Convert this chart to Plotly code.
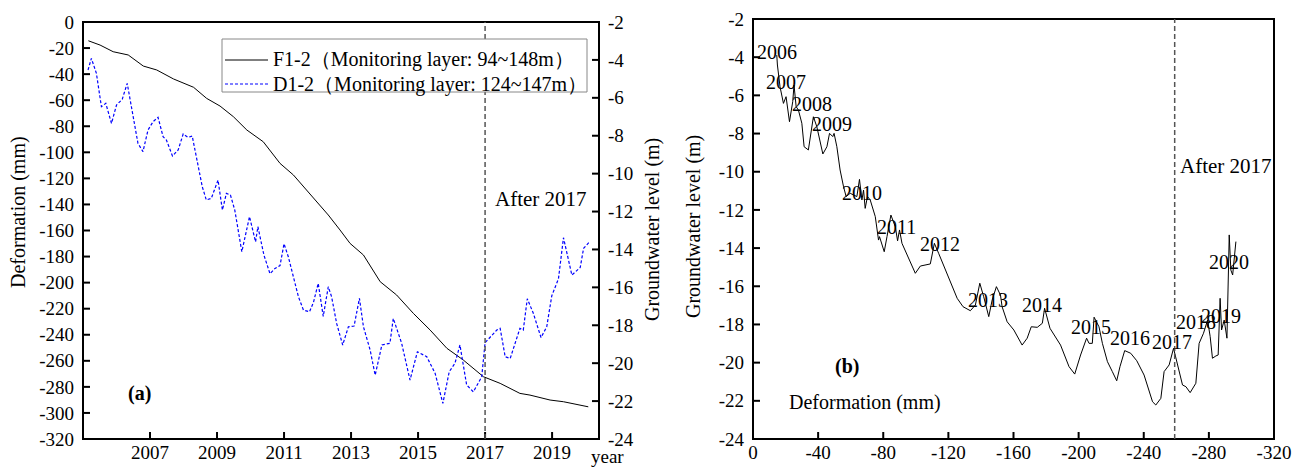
import plotly.graph_objects as go

# ---- Panel (a): time series ----
# F1-2 deformation (mm) by decimal year
f12_year = [2005.16, 2005.51, 2005.90, 2006.35, 2006.80, 2007.20, 2007.70, 2008.30,
            2008.69, 2009.09, 2009.49, 2009.89, 2010.38, 2010.88, 2011.28, 2011.87,
            2012.32, 2012.67, 2012.97, 2013.37, 2013.87, 2014.36, 2014.86, 2015.36,
            2015.86, 2016.35, 2016.95, 2017.45, 2018.04, 2018.34, 2018.94, 2019.34,
            2019.74, 2020.08]
f12_def = [-14.4, -17.7, -22.8, -25.3, -33.8, -36.8, -43.7, -50.1,
           -58.6, -64.5, -72.7, -82.9, -91.9, -108.5, -117.4, -135.3,
           -148.1, -159.6, -169.9, -178.8, -199.3, -209.5, -223.6, -236.4,
           -250.4, -259.4, -272.2, -277.3, -285.0, -286.3, -290.1, -291.4,
           -293.2, -295.3]

# D1-2 groundwater level (m) by decimal year
d12_year = [2005.15, 2005.25, 2005.40, 2005.55, 2005.68, 2005.85, 2006.00, 2006.17,
            2006.32, 2006.47, 2006.64, 2006.79, 2006.94, 2007.09, 2007.24, 2007.39,
            2007.49, 2007.67, 2007.84, 2007.99, 2008.13, 2008.26, 2008.43, 2008.56,
            2008.68, 2008.83, 2009.03, 2009.16, 2009.28, 2009.40, 2009.53, 2009.63,
            2009.74, 2009.97, 2010.15, 2010.22, 2010.40, 2010.58, 2010.73, 2010.88,
            2011.00, 2011.13, 2011.28, 2011.43, 2011.58, 2011.76, 2011.88, 2012.02,
            2012.17, 2012.32, 2012.42, 2012.57, 2012.75, 2012.92, 2013.09, 2013.25,
            2013.37, 2013.57, 2013.72, 2013.92, 2014.16, 2014.26, 2014.51, 2014.76,
            2014.98, 2015.26, 2015.51, 2015.74, 2015.93, 2016.10, 2016.25, 2016.45,
            2016.65, 2016.90, 2017.00, 2017.35, 2017.45, 2017.60, 2017.75, 2018.04,
            2018.14, 2018.26, 2018.44, 2018.67, 2018.84, 2018.99, 2019.19, 2019.34,
            2019.59, 2019.84, 2019.94, 2020.12]
d12_gw = [-4.53, -3.92, -4.71, -6.47, -6.29, -7.35, -6.38, -6.08,
          -5.24, -6.82, -8.40, -8.84, -7.70, -7.26, -7.03, -8.05,
          -8.23, -9.07, -8.75, -7.91, -8.09, -8.02, -9.46, -10.69,
          -11.39, -11.30, -10.34, -11.92, -11.04, -11.13, -11.92, -12.98,
          -14.12, -12.27, -13.60, -12.80, -14.30, -15.28, -15.00, -14.85,
          -13.70, -14.40, -15.44, -16.50, -17.20, -17.29, -16.78, -15.79,
          -17.53, -15.97, -16.50, -17.90, -19.04, -18.08, -18.04, -16.58,
          -18.08, -19.31, -20.63, -19.04, -18.95, -17.64, -18.95, -20.89,
          -19.40, -19.66, -20.54, -22.12, -20.45, -20.01, -19.04, -21.15,
          -21.51, -20.72, -18.92, -18.25, -18.16, -19.66, -19.75, -18.16,
          -18.25, -16.60, -17.37, -18.65, -18.08, -16.45, -15.55, -13.38,
          -15.35, -14.95, -13.94, -13.59]

# ---- Panel (b): groundwater level against deformation ----
b_def = [-14.6, -15.0, -16.6, -18.7, -20.3, -22.4, -24.4, -25.2, -26.5, -27.9,
         -30.0, -31.4, -34.0, -35.5, -37.1, -39.2, -40.8, -42.9, -45.4, -47.0,
         -49.0, -49.8, -51.5, -53.5, -55.6, -57.2, -59.7, -63.8, -65.4, -66.9,
         -67.9, -68.9, -70.3, -72.0, -75.1, -77.1, -77.7, -80.6, -82.3, -84.7,
         -87.4, -88.8, -90.0, -91.5, -99.7, -102.8, -108.9, -111.4, -114.0, -119.2,
         -125.4, -129.0, -133.5, -136.6, -139.3, -141.7, -144.8, -146.9, -149.5, -152.0,
         -153.0, -156.1, -160.2, -165.3, -168.4, -170.9, -174.6, -177.7, -179.1, -182.4,
         -185.9, -188.9, -194.1, -197.6, -201.2, -204.9, -206.4, -208.4, -209.5, -212.5,
         -214.6, -217.7, -220.7, -223.4, -225.4, -228.3, -232.0, -235.7, -240.2, -243.3,
         -245.4, -247.4, -250.5, -252.5, -255.6, -258.3, -259.7, -261.7, -263.8, -265.9,
         -268.5, -272.0, -274.0, -276.7, -279.2, -280.8, -282.2, -284.3, -285.7, -286.9,
         -287.8, -289.4, -291.1, -292.5, -293.5, -294.6, -296.6]
b_gw = [-3.89, -4.41, -5.55, -6.42, -6.07, -7.38, -6.33, -5.46, -6.59, -6.77,
        -7.46, -8.69, -8.86, -7.90, -7.12, -7.64, -8.34, -9.07, -8.69, -7.99,
        -8.16, -7.99, -8.69, -9.91, -10.78, -11.30, -11.13, -11.30, -10.40, -11.48,
        -10.96, -11.92, -11.30, -11.48, -12.35, -13.58, -13.40, -14.19, -13.40, -12.27,
        -12.88, -13.62, -13.05, -13.75, -15.32, -14.94, -14.83, -13.75, -14.27, -15.32,
        -16.63, -17.07, -17.28, -16.98, -15.84, -16.55, -17.59, -16.72, -16.02, -16.46,
        -17.07, -17.86, -18.29, -19.08, -18.72, -18.12, -18.15, -17.94, -17.15, -18.20,
        -18.64, -19.08, -20.21, -20.60, -19.60, -18.72, -18.99, -18.99, -17.62, -18.12,
        -18.99, -19.95, -20.47, -20.95, -20.21, -19.37, -19.51, -19.90, -20.65, -21.43,
        -22.05, -22.22, -21.87, -20.47, -20.12, -19.25, -19.77, -20.38, -21.17, -21.26,
        -21.57, -21.08, -18.99, -18.46, -17.77, -18.64, -19.77, -19.65, -19.60, -16.63,
        -18.29, -17.77, -18.72, -13.31, -15.15, -15.41, -13.66]

# year labels along the panel (b) curve
year_labels = ["2006", "2007", "2008", "2009", "2010", "2011", "2012", "2013",
               "2014", "2015", "2016", "2017", "2018", "2019", "2020"]
year_label_def = [-14.6, -20.3, -36.0, -48.4, -66.9, -88.4, -114.7, -144.6,
                  -177.7, -207.4, -231.4, -257.6, -272.0, -287.4, -292.5]
year_label_gw = [-3.75, -5.3, -6.45, -7.5, -11.1, -12.9, -13.8, -16.7,
                 -17.0, -18.15, -18.7, -18.9, -17.85, -17.55, -14.75]

# axis ticks
year_ticks = [2007, 2009, 2011, 2013, 2015, 2017, 2019]
def_ticks = list(range(0, -321, -20))
gw_ticks = list(range(-2, -25, -2))
b_def_ticks = list(range(0, -321, -40))

series_names = ["F1-2\uff08Monitoring layer: 94~148m\uff09",
                "D1-2\uff08Monitoring layer: 124~147m\uff09"]

FONT = "Liberation Serif, Times New Roman, serif"
W, H = 1302, 467

# plot-area edges in pixels and axis ranges
A_L, A_R, A_T, A_B = 83, 599, 22, 439
B_L, B_R, B_T, B_B = 753, 1274, 19, 439
A_XR, A_YR, A_Y2R = [2005, 2020.4], [-320, 0], [-24, -2]
B_XR, B_YR = [0, -320], [-24, -2]
TICK = 7     # tick length, px
BAR = 2      # frame / tick thickness, px


def px(x):
    return x / W


def py(y):
    return (H - y) / H


def axis(**kw):
    d = dict(
        showline=False, ticks="", showgrid=False, zeroline=False,
        automargin=False, showticklabels=True,
        tickfont=dict(family=FONT, size=19, color="black"),
    )
    d.update(kw)
    return d


fig = go.Figure()

fig.add_trace(go.Scatter(
    x=f12_year, y=f12_def, mode="lines", xaxis="x", yaxis="y",
    name=series_names[0], line=dict(color="black", width=1)))
fig.add_trace(go.Scatter(
    x=d12_year, y=d12_gw, mode="lines", xaxis="x", yaxis="y2",
    name=series_names[1], line=dict(color="#0000ff", width=1.2, dash="3px,2px")))
fig.add_trace(go.Scatter(
    x=b_def, y=b_gw, mode="lines", xaxis="x2", yaxis="y3",
    line=dict(color="black", width=1)))

fig.update_layout(
    template="none",
    width=W, height=H, autosize=False,
    margin=dict(l=0, r=0, t=0, b=0, pad=0),
    paper_bgcolor="white", plot_bgcolor="rgba(0,0,0,0)",
    font=dict(family=FONT, size=19, color="black"),
    showlegend=False,
    xaxis=axis(domain=[px(A_L), px(A_R)], anchor="y", range=A_XR,
               tickmode="array", tickvals=year_ticks,
               ticktext=[str(v) for v in year_ticks], ticklabelstandoff=0),
    yaxis=axis(domain=[py(A_B), py(A_T)], anchor="x", range=A_YR,
               tickmode="array", tickvals=def_ticks,
               ticktext=[str(v) for v in def_ticks], ticklabelstandoff=8),
    yaxis2=axis(overlaying="y", side="right", anchor="x", range=A_Y2R,
                tickmode="array", tickvals=gw_ticks,
                ticktext=[str(v) for v in gw_ticks], ticklabelstandoff=8),
    xaxis2=axis(domain=[px(B_L), px(B_R)], anchor="y3", range=B_XR,
                tickmode="array", tickvals=b_def_ticks,
                ticktext=[str(v) for v in b_def_ticks], ticklabelstandoff=0),
    yaxis3=axis(domain=[py(B_B), py(B_T)], anchor="x2", range=B_YR,
                tickmode="array", tickvals=gw_ticks,
                ticktext=[str(v) for v in gw_ticks], ticklabelstandoff=8),
)

shapes = []
solid = dict(fillcolor="black", line=dict(width=0), layer="above")


def bar(x0, x1, y0, y1, xref="paper", yref="paper"):
    """thin filled rectangle used for frame edges and tick marks"""
    d = dict(type="rect", xref=xref, yref=yref, x0=x0, x1=x1, y0=y0, y1=y1)
    d.update(solid)
    return d


h = BAR / 2
# panel frames as four filled bars each
for (l, r, t, b) in [(A_L, A_R, A_T, A_B), (B_L, B_R, B_T, B_B)]:
    shapes.append(bar(px(l - h), px(r + h), py(t + h), py(t - h)))
    shapes.append(bar(px(l - h), px(r + h), py(b + h), py(b - h)))
    shapes.append(bar(px(l - h), px(l + h), py(b + h), py(t - h)))
    shapes.append(bar(px(r - h), px(r + h), py(b + h), py(t - h)))

# inward tick marks: position on the axis scale, length in pixels
for v in year_ticks:
    shapes.append(dict(type="line", xref="x", yref="paper", x0=v, x1=v,
                       y0=py(A_B), y1=py(A_B - TICK), layer="above",
                       line=dict(color="black", width=BAR)))
for v in def_ticks:
    shapes.append(dict(type="line", xref="paper", yref="y", y0=v, y1=v,
                       x0=px(A_L), x1=px(A_L + TICK), layer="above",
                       line=dict(color="black", width=BAR)))
for v in gw_ticks:
    shapes.append(dict(type="line", xref="paper", yref="y2", y0=v, y1=v,
                       x0=px(A_R - TICK), x1=px(A_R), layer="above",
                       line=dict(color="black", width=BAR)))
for v in b_def_ticks:
    shapes.append(dict(type="line", xref="x2", yref="paper", x0=v, x1=v,
                       y0=py(B_B), y1=py(B_B - TICK), layer="above",
                       line=dict(color="black", width=BAR)))
for v in gw_ticks:
    shapes.append(dict(type="line", xref="paper", yref="y3", y0=v, y1=v,
                       x0=px(B_L), x1=px(B_L + TICK), layer="above",
                       line=dict(color="black", width=BAR)))

# dashed separators at 2017
shapes.append(dict(type="line", xref="x", yref="paper", x0=2017, x1=2017,
                   y0=py(A_B), y1=py(A_T),
                   line=dict(color="#555555", width=1.5, dash="5px,3px")))
shapes.append(dict(type="line", xref="x2", yref="paper", x0=-259, x1=-259,
                   y0=py(B_B), y1=py(B_T),
                   line=dict(color="#555555", width=1.5, dash="5px,3px")))

# legend box with line samples
LG_L, LG_R, LG_T, LG_B = 222, 587, 39, 92
ROW_Y = [60, 84]
shapes.append(dict(type="rect", xref="paper", yref="paper", layer="above",
                   x0=px(LG_L), x1=px(LG_R), y0=py(LG_B), y1=py(LG_T),
                   fillcolor="white", line=dict(color="#888888", width=1)))
shapes.append(dict(type="line", xref="paper", yref="paper", layer="above",
                   x0=px(225), x1=px(268), y0=py(ROW_Y[0]), y1=py(ROW_Y[0]),
                   line=dict(color="black", width=1)))
shapes.append(dict(type="line", xref="paper", yref="paper", layer="above",
                   x0=px(225), x1=px(268), y0=py(ROW_Y[1]), y1=py(ROW_Y[1]),
                   line=dict(color="#0000ff", width=1.2, dash="3px,2px")))

fig.update_layout(shapes=shapes)


def text(x, y, t, size=20, xref="paper", yref="paper", angle=0, xanchor="center"):
    return dict(xref=xref, yref=yref, x=x, y=y, text=t, showarrow=False,
                xanchor=xanchor, yanchor="middle", textangle=angle,
                font=dict(family=FONT, size=size, color="black"))


ann = [text(xv, yv, t, 20, "x2", "y3")
       for t, xv, yv in zip(year_labels, year_label_def, year_label_gw)]

ann += [
    text(px(271), py(ROW_Y[0]), series_names[0], 20, xanchor="left"),
    text(px(271), py(ROW_Y[1]), series_names[1], 20, xanchor="left"),
    text(2018.66, -136.1, "After 2017", 21, "x", "y"),
    text(-290.5, -9.68, "After 2017", 21, "x2", "y3"),
    text(2006.70, -284.7, "<b>(a)</b>", 20, "x", "y"),
    text(-57.8, -20.21, "<b>(b)</b>", 20, "x2", "y3"),
    text(-68.9, -22.08, "Deformation (mm)", 20, "x2", "y3"),
    text(px(607), py(456), "year", 19),
    text(px(18), py(212), "Deformation (mm)", 20, angle=-90),
    text(px(652), py(230), "Groundwater level (m)", 20, angle=-90),
    text(px(693), py(227), "Groundwater level (m)", 20, angle=-90),
]
fig.update_layout(annotations=ann)

fig.write_html("out.html")
